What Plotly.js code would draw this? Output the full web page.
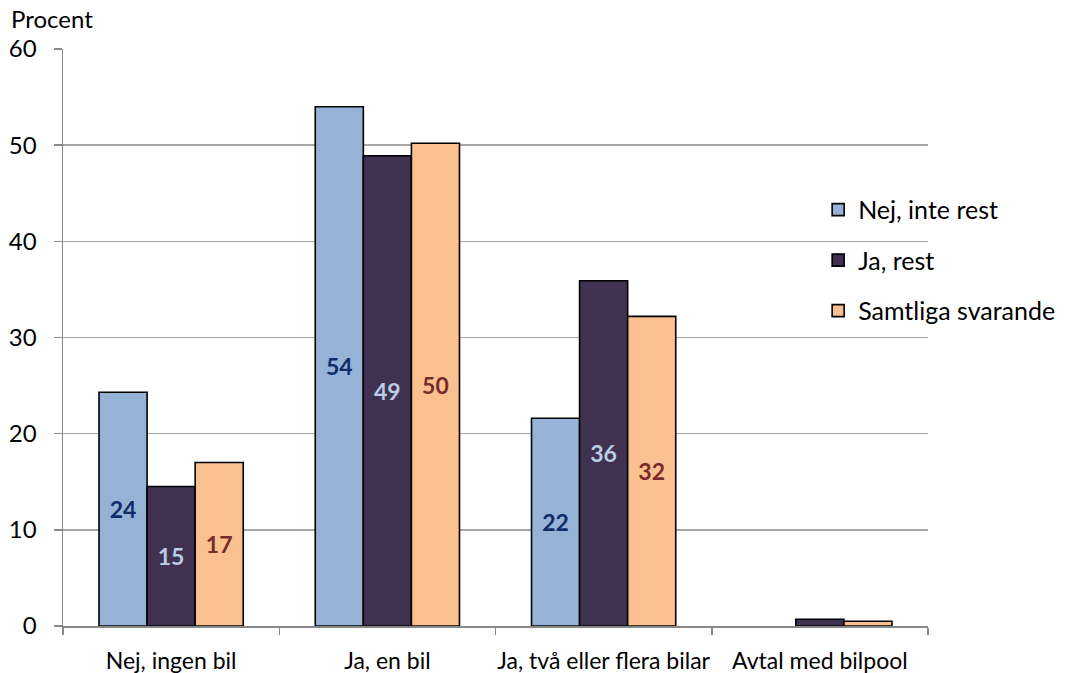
<!DOCTYPE html>
<html>
<head>
<meta charset="utf-8">
<script src="https://cdn.plot.ly/plotly-3.0.1.min.js"></script>
<style>html,body{margin:0;padding:0;background:#fff;}#chart{width:1074px;height:673px;}</style>
</head>
<body>
<div id="chart"></div>
<script>
const categories = ["Nej, ingen bil", "Ja, en bil", "Ja, två eller flera bilar", "Avtal med bilpool"];
const seriesNames = ["Nej, inte rest", "Ja, rest", "Samtliga svarande"];
const nejInteRest = [24.3, 54.0, 21.6, 0];
const jaRest = [14.5, 48.9, 35.9, 0.7];
const samtliga = [17.0, 50.2, 32.2, 0.5];
const yTickVals = [0, 10, 20, 30, 40, 50, 60];

const barColors = ["#95B3D7", "#403151", "#FAC090"];
const labelColors = ["#0F2D69", "#B9CDE5", "#772C2A"];
const FONT = "Lato, 'Open Sans', sans-serif";

const seriesData = [nejInteRest, jaRest, samtliga];
const traces = seriesData.map((vals, i) => ({
  type: "bar",
  name: seriesNames[i],
  x: categories,
  y: vals,
  legendgroup: "g" + i,
  marker: {color: barColors[i], line: {color: "#000000", width: vals.map(v => v > 0 ? 1.6 : 0)}},
  text: vals.map(v => v >= 5 ? String(Math.round(v)) : ""),
  textposition: "inside",
  insidetextanchor: "middle",
  textangle: 0,
  constraintext: "none",
  textfont: {family: FONT, size: 23, color: labelColors[i], weight: "bold"},
  hoverinfo: "skip"
}));

const layout = {
  width: 1074, height: 673,
  margin: {l: 63, r: 146, t: 49, b: 47},
  paper_bgcolor: "#ffffff", plot_bgcolor: "#ffffff",
  font: {family: FONT, size: 24, color: "#000000"},
  barmode: "group",
  bargap: 0.333,
  bargroupgap: 0,
  showlegend: true,
  legend: {
    x: 0.873, xanchor: "left", y: 0.761, yanchor: "top",
    bgcolor: "rgba(0,0,0,0)",
    font: {family: FONT, size: 25, color: "#000000"},
    traceorder: "grouped",
    tracegroupgap: 15,
    itemwidth: 30
  },
  xaxis: {
    type: "category",
    tickson: "boundaries",
    tickangle: 0,
    ticks: "outside", ticklen: 7, tickwidth: 1.5, tickcolor: "#888888",
    ticklabelstandoff: 14,
    showline: true, linecolor: "#888888", linewidth: 1.5,
    showgrid: false,
    tickfont: {family: FONT, size: 23, color: "#000000"},
    fixedrange: true
  },
  yaxis: {
    range: [0, 60],
    tickvals: yTickVals,
    ticktext: yTickVals.map(String),
    ticks: "outside", ticklen: 8, tickwidth: 1.5, tickcolor: "#888888",
    ticklabelstandoff: 12,
    showline: true, linecolor: "#888888", linewidth: 1.5,
    showgrid: true, gridcolor: "#A6A6A6", gridwidth: 1.5,
    zeroline: false,
    tickfont: {family: FONT, size: 24, color: "#000000"},
    fixedrange: true
  },
  annotations: [{
    text: "Procent",
    xref: "paper", yref: "paper",
    x: -0.062, y: 1.052, xanchor: "left", yanchor: "middle",
    showarrow: false,
    font: {family: FONT, size: 24, color: "#000000"}
  }]
};

Plotly.newPlot("chart", traces, layout, {displayModeBar: false, staticPlot: true});
</script>
</body>
</html>
